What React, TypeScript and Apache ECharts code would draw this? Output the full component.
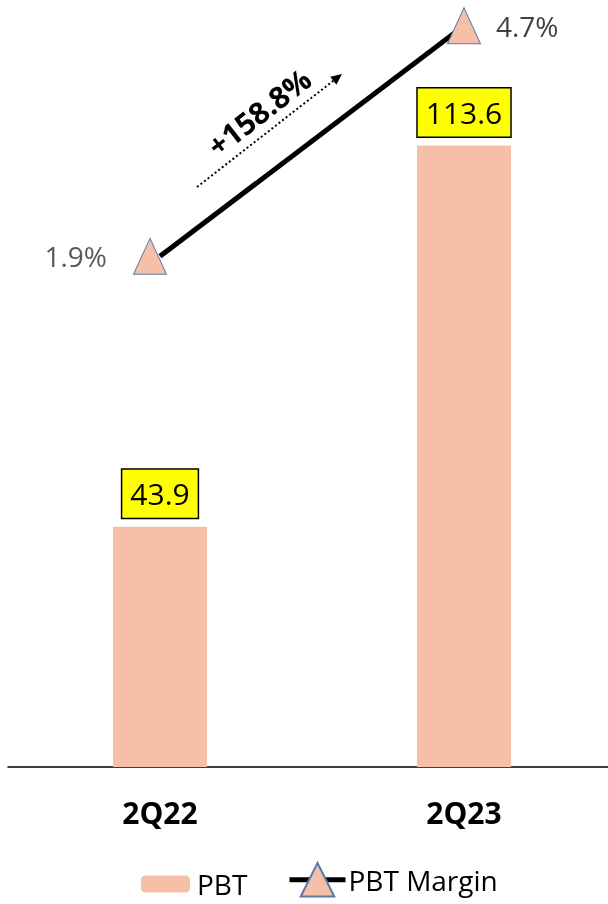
import React, { useEffect, useRef } from "react";
import * as echarts from "echarts";

const categories = ["2Q22", "2Q23"];
const pbtValues = [43.9, 113.6];
const marginValues = [1.9, 4.7];
const growthLabel = "+158.8%";

const FONT = "'Open Sans', 'Noto Sans', sans-serif";
const BAR_COLOR = "#F5BFA8";

export default function App() {
  const ref = useRef<HTMLDivElement>(null);
  useEffect(() => {
    if (!ref.current) return;
    const chart = echarts.init(ref.current, undefined, { renderer: "svg" });
    // dotted arrow geometry
    const x1 = 197, y1 = 187, x2 = 342, y2 = 74;
    const len = Math.hypot(x2 - x1, y2 - y1);
    const ux = (x2 - x1) / len, uy = (y2 - y1) / len;
    const px = -uy, py = ux;
    const headL = 11, headW = 5;
    const bx = x2 - ux * headL, by = y2 - uy * headL;
    const angle = Math.atan2(-(y2 - y1), x2 - x1);

    chart.setOption({
      animation: false,
      textStyle: { fontFamily: FONT },
      grid: {
        left: 8,
        top: 1,
        width: 608,
        bottom: 137,
        containLabel: false,
        outerBoundsMode: "none",
      },
      legend: [
        {
          data: ["PBT"],
          left: 141,
          top: 870,
          padding: 0,
          itemWidth: 49,
          itemHeight: 17,
          itemGap: 0,
          textStyle: { fontSize: 28, color: "#000", fontFamily: FONT, padding: [0, 0, 0, 2] },
        },
        {
          data: ["PBT Margin"],
          left: 287,
          top: 862,
          padding: 0,
          itemWidth: 56,
          itemHeight: 42,
          itemGap: 0,
          lineStyle: { width: 5 },
          textStyle: { fontSize: 28, color: "#000", fontFamily: FONT, padding: [0, 0, 0, -2] },
        },
      ],
      xAxis: {
        type: "category",
        data: categories,
        axisLine: { show: true, lineStyle: { color: "#000", width: 1.5 } },
        axisTick: { show: false },
        axisLabel: { fontSize: 30, fontWeight: "bold", color: "#000", margin: 30, fontFamily: FONT },
      },
      yAxis: [
        { type: "value", min: 0, max: 140, show: false, splitLine: { show: false } },
        { type: "value", min: -4.3, max: 5.0, show: false, splitLine: { show: false } },
      ],
      series: [
        {
          name: "PBT",
          type: "bar",
          data: pbtValues,
          barWidth: 94,
          itemStyle: { color: BAR_COLOR },
          label: {
            show: true,
            position: "top",
            distance: 9,
            fontSize: 30,
            color: "#000",
            fontFamily: FONT,
            backgroundColor: "#FFFF00",
            borderColor: "#000",
            borderWidth: 1.5,
            padding: [9, 8, 9, 8],
          },
        },
        {
          name: "PBT Margin",
          type: "line",
          yAxisIndex: 1,
          symbol: "triangle",
          symbolSize: [33, 36],
          lineStyle: { color: "#000", width: 5 },
          itemStyle: { color: BAR_COLOR, borderColor: "#5B7BA8", borderWidth: 1 },
          z: 5,
          data: [
            {
              value: marginValues[0],
              symbolOffset: [-10, 0],
              label: { show: true, position: "left", distance: 26, color: "#595959" },
            },
            {
              value: marginValues[1],
              label: { show: true, position: "right", distance: 15, color: "#404040" },
            },
          ],
          label: {
            show: true,
            fontSize: 28,
            fontFamily: FONT,
            formatter: (p: any) => p.value.toFixed(1) + "%",
          },
        },
      ],
      graphic: [
        {
          type: "line",
          shape: { x1, y1, x2: bx, y2: by },
          style: { stroke: "#000", lineWidth: 2, lineDash: [2, 2.5] },
          z: 10,
        },
        {
          type: "polygon",
          shape: {
            points: [
              [x2, y2],
              [bx + px * headW, by + py * headW],
              [bx - px * headW, by - py * headW],
            ],
          },
          style: { fill: "#000" },
          z: 10,
        },
        {
          type: "text",
          x: 259,
          y: 112,
          rotation: angle,
          style: {
            text: growthLabel,
            fontSize: 30,
            fontWeight: "bold",
            fontFamily: FONT,
            fill: "#000",
            align: "center",
            verticalAlign: "middle",
          },
          z: 10,
        },
      ],
    });
    return () => chart.dispose();
  }, []);
  return (
    <div
      ref={ref}
      style={{ position: "fixed", left: 0, top: 0, width: 608, height: 904 }}
    />
  );
}
